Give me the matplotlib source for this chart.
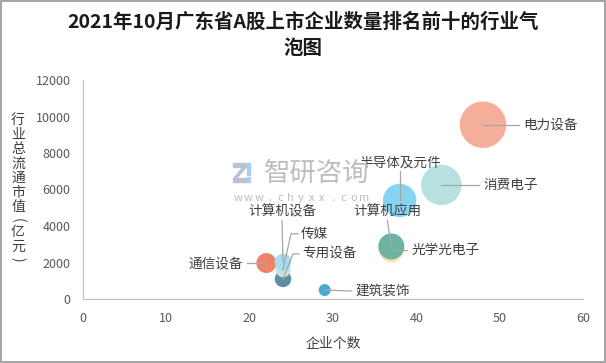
import matplotlib.pyplot as plt
from matplotlib.patches import Rectangle, Polygon
import numpy as np

plt.rcParams['font.family'] = ['Noto Sans CJK SC', 'DejaVu Sans']

industries = ['电力设备', '消费电子', '半导体及元件', '光学光电子', '计算机应用',
              '通信设备', '专用设备', '传媒', '计算机设备', '建筑装饰']
company_count = [48, 43, 38, 37, 37, 22, 24, 24, 24, 29]
market_value = [9550, 6250, 5400, 2700, 2880, 1970, 1100, 1600, 2030, 490]
bubble_value = [540, 410, 280, 155, 170, 100, 68, 56, 70, 36]
colors = ['#F4AE9A', '#B7E1E0', '#86D3F2', '#F8E3A3', '#6CB3A3',
          '#EE836C', '#5D8FA3', '#C6E3DA', '#A9DDF1', '#4AAAD6']

# label offsets in pixels: (dx, dy, ha, elbow)
label_pos = {
    '电力设备': (40, 0, 'left', None),
    '消费电子': (42, 0, 'left', None),
    '半导体及元件': (0, 38, 'center', None),
    '计算机应用': (-4, 35, 'center', None),
    '光学光电子': (20, 0, 'left', None),
    '通信设备': (-23, 0, 'right', None),
    '专用设备': (19, 25, 'left', 10),
    '传媒': (18, 36, 'left', 8),
    '计算机设备': (-1, 50, 'center', None),
    '建筑装饰': (31, -1, 'left', None),
}

W, H = 606, 363
fig = plt.figure(figsize=(W / 100, H / 100), dpi=100)
fig.patch.set_edgecolor('#A6A6A6')
fig.patch.set_linewidth(1.5)
ax = fig.add_axes([83 / W, 1 - 299 / H, 500 / W, 219 / H])

ax.scatter(company_count, market_value, s=np.array(bubble_value) * 2.07,
           c=colors, edgecolors='none', zorder=3)

ax.set_xlim(0, 60)
ax.set_ylim(0, 12000)
ax.set_xticks(range(0, 61, 10))
ax.set_yticks(range(0, 12001, 2000))
ax.tick_params(length=0, labelsize=9, colors='#595959', pad=9)
for s in ['top', 'right']:
    ax.spines[s].set_visible(False)
for s in ['left', 'bottom']:
    ax.spines[s].set_color('#BFBFBF')
    ax.spines[s].set_linewidth(0.8)

inv = ax.transData.inverted()
for name, x, y in zip(industries, company_count, market_value):
    dx, dy, ha, elbow = label_pos[name]
    px, py = ax.transData.transform((x, y))
    tx, ty = px + dx, py + dy
    if elbow:
        pts = [(px, py), (px + elbow, ty), (tx - 3, ty)]
    elif ha == 'left':
        pts = [(px, py), (tx - 4, ty)]
    elif ha == 'right':
        pts = [(px, py), (tx + 4, ty)]
    else:
        pts = [(px, py), (tx, ty - 9)]
    data_pts = inv.transform(pts)
    ax.plot(data_pts[:, 0], data_pts[:, 1], color='#A6A6A6', lw=0.9, zorder=4)
    lx, ly = inv.transform((tx, ty))
    ax.text(lx, ly, name, ha=ha, va='center', fontsize=9.8, color='#404040', zorder=5)

ax.set_xlabel('企业个数', fontsize=10, color='#404040', labelpad=9)

# vertical, upright y-axis title (brackets turned sideways)
ylabel_chars = ['行', '业', '总', '流', '通', '市', '值', '(', '亿', '元', ')']
ylabel_y = [120, 134.5, 149, 163.5, 178, 192.5, 207, 220, 232, 246.5, 259]
for ch, yy in zip(ylabel_chars, ylabel_y):
    rot = -90 if ch in '()' else 0
    fig.text(18 / W, 1 - yy / H, ch, ha='center', va='center', fontsize=10,
             color='#404040', rotation=rot)

fig.text(0.5, 1 - 22 / H, '2021年10月广东省A股上市企业数量排名前十的行业气',
         ha='center', va='center', fontsize=14, fontweight='bold', color='#1A1A1A')
fig.text(0.5, 1 - 48 / H, '泡图', ha='center', va='center', fontsize=14,
         fontweight='bold', color='#1A1A1A')

# watermark
fig.text(317 / W, 1 - 173 / H, '智研咨询', fontsize=19, color='#BDBDBD',
         ha='center', va='center', fontweight='light', zorder=1)
url = 'www.chyxx.com'
for i, ch in enumerate(url):
    fig.text((238 + i * 10.5) / W, 1 - 198 / H, ch, fontsize=8, color='#BDBDBD',
             ha='center', va='center', zorder=1)
logo = [
    Rectangle((233, 163), 14, 3.5, color='#B8C2D3'),
    Polygon([(244, 166), (247, 166), (237, 178), (234, 178)], color='#B8C2D3'),
    Rectangle((233, 178), 14, 3.5, color='#B8C2D3'),
    Rectangle((247.5, 163), 3, 12, color='#A8D0EA'),
    Rectangle((247.5, 177), 3, 4.5, color='#A8D0EA'),
]
for p in logo:
    if isinstance(p, Rectangle):
        x0, y0 = p.get_xy()
        r = Rectangle((x0 / W, 1 - (y0 + p.get_height()) / H), p.get_width() / W,
                      p.get_height() / H, transform=fig.transFigure,
                      color=p.get_facecolor(), zorder=1)
    else:
        r = Polygon([(a / W, 1 - b / H) for a, b in p.get_xy()], closed=True,
                    transform=fig.transFigure, color=p.get_facecolor(), zorder=1)
    fig.patches.append(r)

fig.savefig('out.png', dpi=100)
